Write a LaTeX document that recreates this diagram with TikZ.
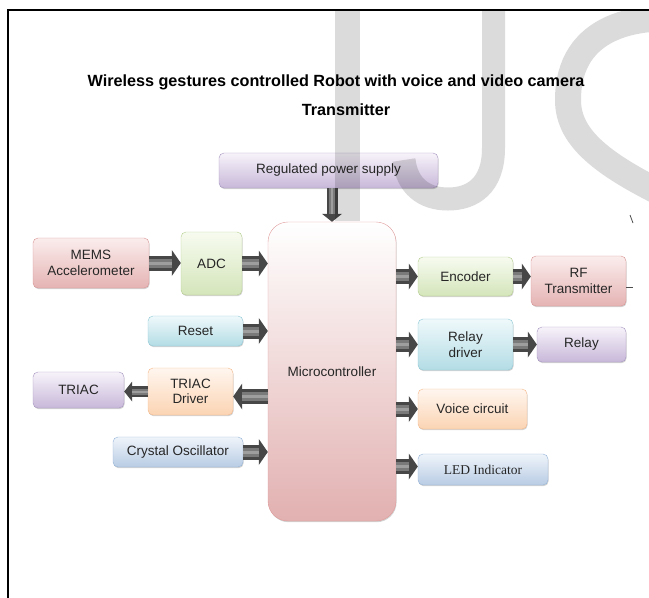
\documentclass[tikz,border=0pt]{standalone}
\usepackage{fontspec}
\setmainfont{Liberation Sans}
\newfontfamily\ledfont{Liberation Serif}
\usetikzlibrary{arrows.meta,shadows,positioning}

\definecolor{purpTop}{HTML}{F7F3FA}\definecolor{purpBot}{HTML}{C8B8D9}\definecolor{purpLine}{HTML}{A695C0}
\definecolor{redTop}{HTML}{FBEDED}\definecolor{redBot}{HTML}{E5B3B3}\definecolor{redLine}{HTML}{D89494}
\definecolor{grnTop}{HTML}{F7FBF0}\definecolor{grnBot}{HTML}{D4E5BA}\definecolor{grnLine}{HTML}{B4CD8E}
\definecolor{cyaTop}{HTML}{EFF9FB}\definecolor{cyaBot}{HTML}{B3DCE5}\definecolor{cyaLine}{HTML}{8EC8D5}
\definecolor{oraTop}{HTML}{FFF6EF}\definecolor{oraBot}{HTML}{FBD4B3}\definecolor{oraLine}{HTML}{F5B88A}
\definecolor{bluTop}{HTML}{EFF4FA}\definecolor{bluBot}{HTML}{B8CCE4}\definecolor{bluLine}{HTML}{94B3D7}
\definecolor{mcuBot}{HTML}{E2B0B0}\definecolor{mcuLine}{HTML}{E09C9C}

\tikzset{
  blk/.style={draw, rounded corners=5pt, align=center, inner sep=2pt,
    font=\fontsize{13.5}{15.5}\selectfont, text=black!85,
    drop shadow={shadow xshift=0.6pt, shadow yshift=-1.2pt, opacity=0.35}},
  purpbox/.style={blk, draw=purpLine, top color=purpTop, bottom color=purpBot},
  redbox/.style={blk, draw=redLine, top color=redTop, bottom color=redBot},
  grnbox/.style={blk, draw=grnLine, top color=grnTop, bottom color=grnBot},
  cyabox/.style={blk, draw=cyaLine, top color=cyaTop, bottom color=cyaBot},
  orabox/.style={blk, draw=oraLine, top color=oraTop, bottom color=oraBot},
  blubox/.style={blk, draw=bluLine, top color=bluTop, bottom color=bluBot},
  flow/.style={draw=black!72, line width=15pt,
    -{Triangle[length=9pt,width=26pt,line width=0pt]},
    postaction={draw=black!52, line width=9pt, -, shorten >=9pt},
    postaction={draw=black!38, line width=3pt, -, shorten >=9pt}},
  smallflow/.style={draw=black!72, line width=11pt,
    -{Triangle[length=8pt,width=20pt,line width=0pt]},
    postaction={draw=black!52, line width=6pt, -, shorten >=8pt},
    postaction={draw=black!38, line width=2pt, -, shorten >=8pt}},
  tick/.style={black!70, line width=0.8pt}
}

\begin{document}
\begin{tikzpicture}[x=1pt, y=-1pt]
  \useasboundingbox (0,0) rectangle (649,598);
  % frame
  \draw[line width=2pt] (8,598) -- (8,10) -- (649,10);

  % title
  \node[font=\bfseries\fontsize{16.2}{18}\selectfont] (title) at (336,82)
    {Wireless gestures controlled Robot with voice and video camera};
  \node[font=\bfseries\fontsize{16.2}{18}\selectfont] (subtitle) at (346,110) {Transmitter};

  % blocks
  \node[purpbox, minimum width=219pt, minimum height=35pt] (power) at (328.5,170.5) {Regulated power supply};
  \node[blk, draw=mcuLine, top color=white, bottom color=mcuBot, rounded corners=20pt,
        minimum width=128pt, minimum height=299pt] (mcu) at (332,371.5) {Microcontroller};

  \node[redbox, minimum width=116pt, minimum height=50pt] (mems) at (91,263) {MEMS\\Accelerometer};
  \node[grnbox, minimum width=61pt, minimum height=63pt] (adc) at (211.5,263.5) {ADC};
  \node[cyabox, minimum width=95pt, minimum height=30pt] (reset) at (195.5,331) {Reset};
  \node[orabox, minimum width=85pt, minimum height=47pt] (trdrv) at (190.5,391.5) {TRIAC\\Driver};
  \node[purpbox, minimum width=91pt, minimum height=36pt] (triac) at (78.5,390) {TRIAC};
  \node[blubox, minimum width=130pt, minimum height=30pt] (xtal) at (178,452) {Crystal Oscillator};

  \node[grnbox, minimum width=95pt, minimum height=39pt] (enc) at (465.5,276.5) {Encoder};
  \node[redbox, minimum width=95pt, minimum height=50pt] (rf) at (578.5,281) {RF\\Transmitter};
  \node[cyabox, minimum width=95pt, minimum height=51pt] (rldrv) at (465.5,344.5) {Relay\\driver};
  \node[purpbox, minimum width=89pt, minimum height=35pt] (relay) at (581.5,344.5) {Relay};
  \node[orabox, minimum width=109pt, minimum height=40pt] (voice) at (472.5,409) {Voice circuit};
  \node[blubox, minimum width=130pt, minimum height=31pt, font=\ledfont\fontsize{13.5}{15.5}\selectfont]
        (led) at (483,469.5) {LED Indicator};

  % arrows
  \coordinate (drvin) at ([yshift=-5pt]trdrv.east);
  \coordinate (ledin) at ([yshift=3pt]led.west);
  \draw[smallflow] (mcu.north |- power.south) -- (mcu.north);
  \draw[flow] (mems.east) -- (mems.east -| adc.west);
  \draw[flow] (adc.east) -- (adc.east -| mcu.west);
  \draw[flow] (reset.east) -- (reset.east -| mcu.west);
  \draw[flow] (mcu.west |- drvin) -- (drvin);
  \draw[smallflow] (trdrv.west) -- (trdrv.west -| triac.east);
  \draw[flow] (xtal.east) -- (xtal.east -| mcu.west);
  \draw[flow] (mcu.east |- enc.west) -- (enc.west);
  \draw[flow] (enc.east) -- (enc.east -| rf.west);
  \draw[flow] (mcu.east |- rldrv.west) -- (rldrv.west);
  \draw[flow] (rldrv.east) -- (rldrv.east -| relay.west);
  \draw[flow] (mcu.east |- voice.west) -- (voice.west);
  \draw[flow] (mcu.east |- ledin) -- (ledin);

  % small marks at the right edge
  \coordinate (stub) at ([yshift=-6pt]rf.east);
  \draw[tick] (stub) -- ++(7,0);
  \draw[tick] (630,215) -- (633,223);

  % watermark
  \begin{scope}
    \clip (9,11) rectangle (649,598);
    \fill[black, opacity=0.14] (335,0) rectangle (360,221);
    \draw[black, opacity=0.14, line width=23pt]
      (493.5,0) -- (493.5,148) .. controls (493.5,186) and (472,199) .. (448,199)
      .. controls (424,199) and (407,186) .. (404,160);
    \draw[black, opacity=0.14, line width=26pt]
      (708,22) .. controls (638,10) and (568,25) .. (568,100)
      .. controls (568,140) and (606,168) .. (686,205);
  \end{scope}
\end{tikzpicture}
\end{document}
